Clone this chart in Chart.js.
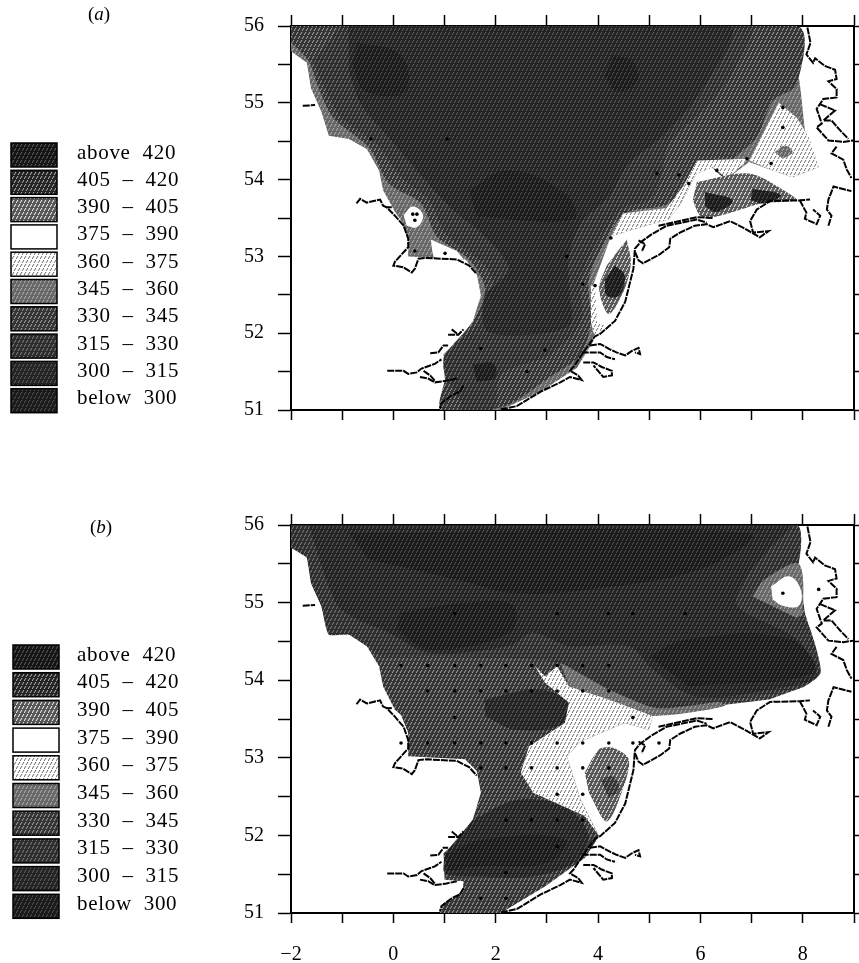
<!DOCTYPE html>
<html lang="en">

<head>
    <meta charset="UTF-8" />
    <title>North Sea bands</title>
    <script src="https://cdn.jsdelivr.net/npm/chart.js"></script>
    <style>
        body { margin: 0; background: #fff; width: 859px; height: 963px; overflow: hidden; position: relative; }
        canvas { position: absolute; left: 0; }
        #panelA { top: 0; }
        #panelB { top: 470px; }
    </style>
</head>

<body>
    <canvas id="panelA" width="859" height="470"></canvas>
    <canvas id="panelB" width="859" height="493"></canvas>

    <script>
        const bandLabels = ['above  420', '405  \u2013  420', '390  \u2013  405', '375  \u2013  390', '360  \u2013  375',
            '345  \u2013  360', '330  \u2013  345', '315  \u2013  330', '300  \u2013  315', 'below  300'];
        const bandStyles = [['#141414', '#666'], ['#222', '#bbb'], ['#555', '#fff'], ['#fff', '#fff'], ['#fff', '#666'],
            ['#666', '#b4b4b4'], ['#333', '#aaa'], ['#2c2c2c', '#888'], ['#222', '#666'], ['#1a1a1a', '#555']];

        // sea outlines, lon/lat
        const seaA = [[-2,56],[7.88,56],[7.88,55.54],[7.96,55.15],[8.04,54.64],[8.31,54.16],[7.8,54.03],[7.41,54.12],[6.95,54.23],[6.52,54.01],[6.24,54.16],[5.93,54.08],[5.62,53.69],[5.38,53.48],[4.68,53.35],[4.25,53.26],[3.9,52.62],[3.98,52.15],[3.9,51.89],[3.59,51.55],[2.88,51.24],[2.1,51],[0.91,51],[0.98,51.13],[1.24,51.19],[1.36,51.3],[1.37,51.39],[1,51.41],[0.98,51.73],[1.2,51.86],[1.55,52.15],[1.71,52.49],[1.63,52.77],[1.4,52.96],[0.29,53],[0.29,53.23],[0.15,53.47],[0.03,53.58],[-0.2,53.86],[-0.28,54.12],[-0.52,54.4],[-0.87,54.53],[-1.26,54.57],[-1.41,54.89],[-1.61,55.19],[-1.69,55.52],[-2,55.67]];
        const seaB = [[-2,56],[7.88,56],[7.92,55.43],[8.04,54.87],[8.16,54.61],[8.35,54.1],[7.96,53.9],[7.34,53.75],[6.32,53.67],[5.07,53.54],[4.99,53.36],[4.52,53.45],[3.66,53.21],[3.39,53.02],[3.66,52.46],[4.02,51.99],[3.74,51.71],[2.96,51.34],[2.1,51],[0.91,51],[0.98,51.13],[1.24,51.21],[1.36,51.3],[1.37,51.41],[1,51.43],[0.98,51.77],[1.2,51.9],[1.55,52.2],[1.71,52.55],[1.63,52.83],[1.4,52.98],[0.29,53.02],[0.29,53.32],[0.15,53.55],[0.03,53.62],[-0.2,53.92],[-0.28,54.18],[-0.52,54.44],[-0.87,54.59],[-1.26,54.59],[-1.41,54.96],[-1.61,55.26],[-1.69,55.58],[-2,55.71]];

        // panel a bands
        const a330 = [[-2,56],[7.88,56],[7.88,55.24],[7.41,55.02],[7.1,54.55],[6.63,54.25],[6.48,54.03],[6.09,54.21],[5.77,54.03],[5.38,53.69],[4.52,53.56],[4.13,53.18],[3.82,52.7],[3.86,52.15],[3.66,51.72],[3.04,51.42],[2.26,51.07],[1.79,51],[0.93,51],[1.02,51.45],[1.02,51.72],[1.55,52.15],[1.79,52.58],[1.48,52.96],[0.85,53.26],[0.54,53.69],[-0.09,53.95],[-0.48,54.42],[-1.18,54.81],[-1.49,55.24],[-1.65,55.54],[-2,55.79]];
        const a315 = [[-1.02,56],[6.95,56],[6.71,55.49],[6.16,54.98],[5.38,54.46],[5.23,54.03],[4.99,53.73],[4.45,53.61],[3.98,53.18],[3.66,52.7],[3.66,52.15],[3.04,51.72],[2.1,51.46],[1.95,51],[1.32,51],[1.32,51.12],[1.01,51.46],[1.01,51.72],[1.63,52.1],[1.95,52.58],[1.79,52.88],[1.01,53.3],[0.7,53.73],[0.15,54.03],[-0.32,54.46],[-1.02,54.81],[-1.34,55.19],[-1.57,55.54]];
        const a300 = [[-0.87,56],[6.55,56],[6.01,55.15],[5.23,54.55],[4.6,54.21],[4.21,53.78],[3.66,53.43],[3.43,53],[3.43,52.62],[3.43,52.1],[2.26,51.97],[1.79,52.06],[1.79,52.49],[2.26,52.83],[1.79,53.26],[1.16,53.61],[0.46,54.12],[-0.09,54.55],[-0.63,54.98],[-0.87,55.41]];
        const aLow1 = [[4.29,55.62],[4.68,55.54],[4.76,55.28],[4.37,55.15],[4.13,55.36]];
        const aLow2 = [[-0.71,55.79],[0.15,55.62],[0.23,55.15],[-0.55,55.15],[-0.79,55.49]];
        const aLow3 = [[1.63,53.52],[3.51,53.48],[3.35,53.82],[2.26,54.12],[1.48,53.86]];
        const aLow4 = [[1.55,51.59],[1.95,51.61],[1.98,51.42],[1.63,51.37]];
        const a360ne = [[7.53,55],[7.88,54.81],[8.12,54.55],[8.31,54.16],[7.8,54.03],[7.41,54.12],[6.95,54.25],[7.18,54.55]];
        const a360mid = [[4.25,53.26],[4.48,53.56],[5.34,53.63],[5.66,53.91],[5.81,54.1],[5.93,54.25],[6.95,54.27],[6.52,54.01],[6.24,54.16],[5.93,54.08],[5.62,53.69],[5.38,53.48],[4.68,53.35]];
        const a360se = [[3.94,52.62],[3.98,52.15],[4.13,52.1],[3.94,51.93],[3.86,52.15],[3.86,52.62]];
        const a345spot = [[7.45,54.36],[7.65,54.44],[7.8,54.36],[7.61,54.27]];
        const aWhite1 = [[0.2,53.54],[0.38,53.65],[0.58,53.54],[0.46,53.38],[0.26,53.4]];
        const aWhite2 = [[0.73,53.22],[0.81,52.98],[1.4,52.96],[1.52,52.85],[1.24,53.07]];
        const aPatch1 = [[4.56,53.22],[4.64,52.92],[4.52,52.58],[4.21,52.25],[4.02,52.58],[4.17,52.88]];
        const aCore1 = [[4.33,52.88],[4.52,52.75],[4.41,52.49],[4.17,52.49],[4.13,52.7]];
        const aPatch2 = [[5.93,53.97],[6.95,54.08],[7.73,53.82],[7.88,53.73],[7.18,53.69],[6.79,53.61],[6.32,53.52],[6.01,53.52],[5.85,53.73]];
        const aCore2 = [[6.09,53.84],[6.63,53.73],[6.32,53.58],[6.09,53.65]];
        const aCore3 = [[7.02,53.88],[7.57,53.8],[7.26,53.69],[6.98,53.73]];

        // panel b bands
        const b345 = [[3.27,54.22],[4.6,53.97],[5.3,53.75],[5.93,53.82],[6.48,53.67],[5.07,53.54],[4.21,53.75],[3.43,53.92]];
        const b315 = [[-2,56],[7.88,56],[7.88,55.43],[7.26,55.3],[7.02,55.08],[7.88,54.87],[8.12,54.7],[8.35,54.1],[7.96,53.9],[6.4,53.73],[5.15,53.64],[4.21,53.88],[3.27,54.22],[2.73,54.27],[1.79,54.29],[0.7,54.31],[-0.24,54.31],[-0.52,54.44],[-0.87,54.59],[-1.26,54.59],[-1.41,54.96],[-1.61,55.26],[-1.69,55.58],[-2,55.71]];
        const b300 = [[-1.65,56],[7.73,56],[7.34,55.69],[6.87,55.3],[6.71,54.96],[7.88,54.53],[8.27,54.05],[7.73,53.92],[5.93,53.79],[5.07,54.14],[4.6,54.44],[3.43,54.44],[2.73,54.61],[2.26,54.44],[0.7,54.35],[-0.09,54.61],[-1.02,54.91],[-1.34,55.34]];
        const bLow1 = [[-0.87,55.9],[6.95,55.9],[6.16,55.47],[3.82,55.17],[2.26,55.13],[1.48,55.26],[-0.48,55.56]];
        const bLow2 = [[0.15,54.87],[1.48,55],[2.34,54.96],[2.26,54.61],[0.7,54.4],[0.07,54.65]];
        const bLow3 = [[5,54.31],[5.77,54.53],[7.73,54.53],[8.2,54.1],[5.77,53.92]];
        const bMid = [[1.79,53.75],[2.8,53.88],[3.43,53.71],[3.35,53.45],[2.41,53.36],[1.79,53.54]];
        const bSouth = [[1.55,52.2],[2.41,52.46],[3.35,52.38],[3.82,51.99],[3.51,51.64],[2.73,51.47],[1.63,51.47],[1.01,51.51],[1.01,51.77]];
        const bSouthCore = [[1.01,51.75],[1.79,51.95],[3.35,51.95],[3.04,51.65],[1.63,51.6],[1.05,51.54]];
        const b360 = [[2.77,54.18],[2.96,54.05],[3.2,54.18],[3.43,53.92],[4.21,53.75],[5.07,53.54],[4.99,53.36],[4.52,53.45],[3.66,53.21],[3.39,53.02],[3.66,52.46],[4.02,51.99],[3.74,52.25],[2.73,52.55],[2.49,52.81],[2.65,53.15],[3.35,53.45],[3.43,53.71],[2.96,53.97]];
        const bPatch = [[3.74,52.81],[4.02,53.11],[4.29,53.13],[4.6,52.98],[4.48,52.59],[4.17,52.18],[3.82,52.55]];
        const bPatchCore = [[4.05,52.72],[4.29,52.76],[4.41,52.59],[4.21,52.48]];
        const bHalo = [[7.02,55.08],[7.26,55.3],[7.92,55.5],[8,54.87],[7.88,54.8]];
        const bWhite = [[7.38,55.21],[7.73,55.34],[7.96,55.17],[7.92,54.96],[7.61,54.96],[7.41,55.04]];

        // coast lines, same for both panels
        const coastHumber = [[-0.72,53.69],[-0.65,53.75],[-0.52,53.7],[-0.26,53.74],[-0.2,53.66],[-0.13,53.64],[0.03,53.53],[0.2,53.4],[0.29,53.23],[0.29,53.12],[0.03,52.93],[0,52.88],[0.19,52.86],[0.36,52.79],[0.42,52.84],[0.49,52.97],[0.65,52.98],[1.24,52.96],[1.48,52.88],[1.63,52.77]];
        const coastHumberStub = [[-0.13,53.64],[-0.03,53.64]];
        const coastTyne = [[-1.77,54.96],[-1.53,54.97]];
        const coastThamesN = [[-0.12,51.51],[0.2,51.51],[0.29,51.47],[0.46,51.49],[0.55,51.54],[0.72,51.58],[0.81,51.6],[0.94,51.66]];
        const coastCrouch = [[0.72,51.74],[0.88,51.75],[0.98,51.84],[1.07,51.84]];
        const coastOrwell = [[1.07,51.98],[1.27,51.98],[1.37,52.05]];
        const coastOrwell2 = [[1.14,52.05],[1.27,51.98]];
        const coastThamesS = [[0.52,51.43],[0.68,51.41],[0.81,51.36],[1.04,51.38],[1.24,51.41]];
        const coastThames3 = [[0.59,51.51],[0.72,51.45],[0.81,51.38]];
        const coastKent = [[1.37,51.32],[1.3,51.24],[1.14,51.19],[0.94,51.09],[0.91,51.02]];
        const coastLow = [[2.1,51.01],[2.41,51.05],[2.88,51.24],[3.26,51.36],[3.45,51.43],[3.68,51.39],[3.61,51.45],[3.45,51.51],[3.52,51.56],[3.71,51.75],[3.94,51.96],[4.04,51.99],[4.33,52.16],[4.53,52.41],[4.69,52.84],[4.72,53.1],[4.82,53.18],[5.05,53.29],[5.34,53.4],[5.93,53.48],[6.12,53.44]];
        const coastZeeland1 = [[3.84,51.84],[4.04,51.86],[4.23,51.79],[4.36,51.75],[4.53,51.71],[4.66,51.77],[4.79,51.81],[4.82,51.73],[4.72,51.75]];
        const coastZeeland2 = [[3.68,51.75],[4.04,51.75],[4.17,51.69],[4.33,51.66]];
        const coastZeeland3 = [[3.71,51.62],[3.91,51.62],[4.07,51.56],[4.27,51.51],[4.27,51.45],[4.1,51.43],[3.91,51.58]];
        const coastIjssel = [[4.72,53.06],[4.79,52.95],[4.88,52.91],[5.21,53.03],[5.39,53.12],[5.41,53.23],[5.6,53.31],[5.89,53.4],[6.12,53.42],[6.25,53.38],[6.58,53.46],[6.87,53.36],[7.16,53.25],[7.33,53.33],[7.03,53.31],[6.97,53.46],[7.1,53.61],[7.36,53.72],[7.94,53.73],[8.14,53.74]];
        const coastFrisian = [[5.18,53.4],[5.93,53.51],[6.25,53.5]];
        const coastLoop = [[4.79,53.21],[4.92,53.16],[4.85,53.06]];
        const coastJade = [[7.94,53.73],[8.07,53.57],[8.04,53.49],[8.27,53.42],[8.34,53.53],[8.2,53.61]];
        const coastWeser = [[8.5,53.4],[8.56,53.53],[8.47,53.61],[8.5,53.74],[8.6,53.91],[8.95,53.85]];
        const coastJutland1 = [[8.09,55.98],[8.15,55.78],[8.07,55.63],[8.2,55.52],[8.24,55.58],[8.43,55.48],[8.63,55.43],[8.66,55.31],[8.5,55.28],[8.66,55.18],[8.66,55.07],[8.4,55.05],[8.27,54.92],[8.37,54.73],[8.27,54.68],[8.5,54.51],[8.79,54.49],[8.99,54.51]];
        const coastJutland2 = [[8.34,54.98],[8.63,54.9],[8.4,54.77],[8.56,54.77],[8.73,54.64],[8.89,54.53]];
        const coastJutland3 = [[8.66,54.43],[8.56,54.34],[8.79,54.26],[8.86,54.13],[8.95,54.02]];
        const coasts = [coastHumber, coastHumberStub, coastTyne, coastThamesN, coastCrouch, coastOrwell, coastOrwell2, coastThamesS, coastThames3, coastKent,
            coastLow, coastZeeland1, coastZeeland2, coastZeeland3, coastIjssel, coastFrisian, coastLoop, coastJade, coastWeser,
            coastJutland1, coastJutland2, coastJutland3];

        // sampling stations
        const stationsA = [[7.61,54.94],[7.61,54.68],[6.91,54.27],[7.38,54.21],[6.32,54.12],[5.58,54.06],[5.77,53.95],[4.25,53.24],[3.94,52.62],[3.7,52.64],[3.39,53],[1.01,53.04],[0.42,53.07],[1.71,51.8],[2.96,51.78],[2.61,51.5],[-0.44,54.53],[1.05,54.53],[5.15,54.08],[0.38,53.55],[0.46,53.55],[0.42,53.47]];
        const stationsB = [[0.15,54.19],[0.67,54.19],[1.2,54.19],[1.71,54.19],[2.2,54.19],[2.7,54.19],[3.2,54.19],[3.7,54.19],[4.21,54.19],[0.67,53.86],[1.2,53.86],[1.71,53.86],[2.2,53.86],[2.7,53.86],[3.2,53.86],[3.7,53.86],[4.21,53.86],[1.2,53.52],[4.68,53.52],[0.15,53.19],[0.67,53.19],[1.2,53.19],[1.71,53.19],[2.2,53.19],[2.7,53.19],[3.2,53.19],[3.7,53.19],[4.21,53.19],[4.68,53.19],[5.19,53.19],[1.71,52.87],[2.2,52.87],[2.7,52.87],[3.2,52.87],[3.7,52.87],[4.21,52.87],[3.2,52.53],[3.7,52.53],[2.2,52.2],[2.7,52.2],[3.2,52.2],[3.7,52.2],[3.2,51.86],[2.2,51.52],[1.71,51.19],[2.2,51.19],[1.2,54.86],[3.2,54.86],[4.2,54.86],[4.68,54.86],[5.7,54.86],[7.61,55.12],[8.31,55.17]];

        const layersA = [[5, seaA, 0], [6, a330, 0.3], [7, a315, 0.3], [8, a300, 0.3], [9, aLow1, 0.4], [9, aLow2, 0.4], [9, aLow3, 0.4], [9, aLow4, 0.4],
            [4, a360ne, 0], [4, a360mid, 0], [4, a360se, 0], [5, a345spot, 0.4], [3, aWhite1, 0.4], [3, aWhite2, 0.2],
            [2, aPatch1, 0.3], [9, aCore1, 0.4], [2, aPatch2, 0.3], [9, aCore2, 0.4], [9, aCore3, 0.4]];
        const layersB = [[6, seaB, 0], [5, b345, 0.2], [7, b315, 0.2], [8, b300, 0.3], [9, bLow1, 0.4], [9, bLow2, 0.4], [9, bLow3, 0.4], [8, bMid, 0.4], [8, bSouth, 0.3], [9, bSouthCore, 0.4],
            [4, b360, 0], [5, bHalo, 0.3], [3, bWhite, 0.4], [2, bPatch, 0.3], [6, bPatchCore, 0.4]];

        const serif = '"Liberation Serif", serif';
        const toPoints = list => list.map(([x, y]) => ({ x, y }));

        function makePattern(ctx, [bg, fg]) {
            const tile = document.createElement('canvas');
            tile.width = 8;
            tile.height = 8;
            const t = tile.getContext('2d');
            t.fillStyle = bg;
            t.fillRect(0, 0, 8, 8);
            t.strokeStyle = fg;
            t.lineWidth = 1;
            t.beginPath();
            // short slanted strokes, second row shifted
            [[0, 3], [4, 3], [-2, 7], [2, 7], [6, 7]].forEach(([x, y]) => {
                t.moveTo(x, y);
                t.lineTo(x + 2, y - 3);
            });
            t.stroke();
            return ctx.createPattern(tile, 'repeat');
        }

        function buildPanel(id, layers, stations, o) {
            const canvas = document.getElementById(id);
            const patterns = bandStyles.map(s => makePattern(canvas.getContext('2d'), s));

            const datasets = [];
            layers.forEach(([band, poly, tension]) => datasets.push({
                data: toPoints(poly), showLine: true, fill: 'shape', tension, pointRadius: 0, borderWidth: 0,
                backgroundColor: patterns[band], borderColor: 'transparent'
            }));
            coasts.forEach(line => datasets.push({
                data: toPoints(line), showLine: true, fill: false, pointRadius: 0, borderWidth: 2, borderColor: '#000', borderDash: [7, 1]
            }));
            datasets.push({ data: toPoints(stations), showLine: false, pointRadius: 1.8, pointBackgroundColor: '#000', pointBorderWidth: 0 });
            datasets.forEach((d, i) => { d.order = datasets.length - i; });

            const axis = (position, size, extra) => ({
                type: 'linear', position,
                border: { display: true, color: '#000', width: 2 },
                grid: { drawOnChartArea: false, tickLength: extra.tick, tickColor: '#000', tickWidth: 1.5 },
                ticks: {
                    autoSkip: false, maxRotation: 0, stepSize: extra.step, color: '#000', padding: extra.pad,
                    font: { family: serif, size: 20 }, callback: extra.label
                },
                min: extra.min, max: extra.max,
                afterFit(s) {
                    if (s.isHorizontal()) {
                        s.height = size;
                        s.paddingRight = 0; // tick padding would otherwise shrink the plot
                    } else {
                        s.width = size;
                    }
                }
            });

            const xBottom = v => (o.xLabels && v % 2 === 0 && v < 9) ? String(v).replace('-', '\u2212') : '';
            const yLeft = v => Number.isInteger(v) ? String(v) : '';
            const none = () => '';
            const bandLegend = {
                id: 'bandLegend',
                afterDraw(chart) {
                    const c = chart.ctx;
                    c.save();
                    c.textBaseline = 'middle';
                    bandLabels.forEach((label, i) => {
                        const y = o.legendTop + i * o.legendStep;
                        c.fillStyle = patterns[i];
                        c.fillRect(o.legendX, y - 12, 46, 24);
                        c.strokeStyle = '#000';
                        c.lineWidth = 1.5;
                        c.strokeRect(o.legendX, y - 12, 46, 24);
                        c.fillStyle = '#000';
                        c.font = '21px ' + serif;
                        c.letterSpacing = '0.7px';
                        c.fillText(label, 77, y - 2);
                    });
                    c.letterSpacing = '0px';
                    c.font = '19px ' + serif;
                    c.fillText('(', o.tagX, o.tagY);
                    let x = o.tagX + c.measureText('(').width;
                    c.font = 'italic 19px ' + serif;
                    c.fillText(o.tag, x, o.tagY);
                    x += c.measureText(o.tag).width;
                    c.font = '19px ' + serif;
                    c.fillText(')', x, o.tagY);
                    c.restore();
                }
            };

            new Chart(canvas, {
                type: 'scatter',
                data: { datasets },
                options: {
                    responsive: false,
                    animation: false,
                    events: [],
                    layout: { padding: 0 },
                    plugins: { legend: { display: false }, tooltip: { enabled: false } },
                    scales: {
                        x: axis('bottom', o.bottom, { min: -2, max: 9, step: 1, tick: 10, pad: 20, label: xBottom }),
                        xTop: axis('top', o.top, { min: -2, max: 9, step: 1, tick: 11, pad: 0, label: none }),
                        y: axis('left', 291, { min: 51, max: 56, step: 0.5, tick: 13, pad: 14, label: yLeft }),
                        yRight: axis('right', 5, { min: 51, max: 56, step: 0.5, tick: 10, pad: 0, label: none })
                    }
                },
                plugins: [bandLegend]
            });
        }

        buildPanel('panelA', layersA, stationsA, { top: 21, bottom: 60, xLabels: false, legendX: 11, legendTop: 155, legendStep: 27.3, tag: 'a', tagX: 88, tagY: 15 });
        buildPanel('panelB', layersB, stationsB, { top: 55, bottom: 50, xLabels: true, legendX: 13, legendTop: 187, legendStep: 27.7, tag: 'b', tagX: 90, tagY: 58 });
    </script>
</body>

</html>
